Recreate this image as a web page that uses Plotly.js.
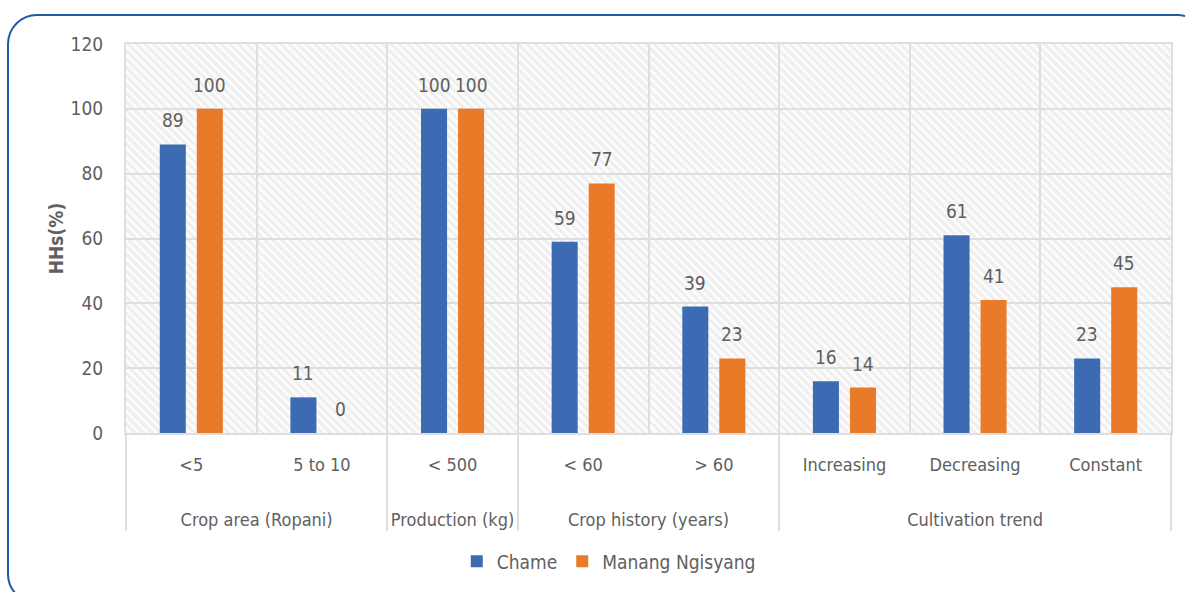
<!DOCTYPE html>
<html>
<head>
<meta charset="utf-8">
<script src="https://cdn.plot.ly/plotly-3.0.1.min.js"></script>
<style>
  html, body { margin: 0; padding: 0; background: #ffffff; overflow: hidden; }
  #wrap { position: relative; width: 1185px; height: 592px; overflow: hidden; }
  #frame {
    position: absolute; left: 7px; top: 14px; width: 1200px; height: 590px;
    border: 2px solid #1f5aa6; border-radius: 30px; box-sizing: border-box;
    pointer-events: none; z-index: 5;
  }
  #chart { position: absolute; left: 0; top: 0; width: 1185px; height: 592px; }
</style>
</head>
<body>
<div id="wrap">
  <div id="chart"></div>
  <div id="frame"></div>
</div>
<script>
// Indicator groups and their sub-categories
const groups = [
  "Crop area (Ropani)", "Crop area (Ropani)",
  "Production (kg)",
  "Crop history (years)", "Crop history (years)",
  "Cultivation trend", "Cultivation trend", "Cultivation trend"
];
const subCategories = ["<5", "5 to 10", "< 500", "< 60", "> 60", "Increasing", "Decreasing", "Constant"];

// Share of households (%) per village
const chame = [89, 11, 100, 59, 39, 16, 61, 23];
const manangNgisyang = [100, 0, 100, 77, 23, 14, 41, 45];

const FONT = '"Liberation Sans Narrow", "DejaVu Sans Condensed", "Roboto", sans-serif';
const TEXT_GREY = '#606060';
const GRID = '#dedede';

// Light diagonal hatch used as the plot background
const hatchSvg =
  '<svg xmlns="http://www.w3.org/2000/svg" width="1045" height="389">' +
  '<defs><pattern id="h" width="6" height="6" patternUnits="userSpaceOnUse" patternTransform="rotate(-45)">' +
  '<rect width="6" height="6" fill="#fcfcfc"/><rect width="3" height="6" fill="#efefef"/></pattern></defs>' +
  '<rect width="1045" height="389" fill="url(#h)"/></svg>';
const hatchUri = 'data:image/svg+xml;base64,' + btoa(hatchSvg);

// Group row sits a couple of blank lines below the sub-category row
const xCats = [groups.map(g => '<br><br>' + g), subCategories];

const traces = [
  { type: 'bar', name: 'Chame', x: xCats, y: chame, marker: { color: '#3d6bb3' } },
  { type: 'bar', name: 'Manang Ngisyang', x: xCats, y: manangNgisyang, marker: { color: '#e97a27' } }
];

// Value labels above each bar (category index on the x axis, shifted to its bar slot)
const BAR_SHIFT = 18.5;
const valueLabels = [];
[chame, manangNgisyang].forEach((series, s) => {
  series.forEach((v, i) => {
    valueLabels.push({
      x: i, y: v, xref: 'x', yref: 'y',
      text: String(v), showarrow: false,
      xanchor: 'center', yanchor: 'bottom',
      xshift: s === 0 ? -BAR_SHIFT : BAR_SHIFT, yshift: 11,
      font: { family: FONT, size: 19, color: TEXT_GREY }
    });
  });
});

const layout = {
  width: 1185, height: 592,
  margin: { l: 126, r: 14, t: 44, b: 159 },
  paper_bgcolor: '#ffffff',
  plot_bgcolor: '#f5f5f5',
  font: { family: FONT, size: 19, color: TEXT_GREY },
  barmode: 'group',
  bargap: 0.433,
  bargroupgap: 0.297,
  showlegend: true,
  legend: {
    orientation: 'h', x: 0.462, xanchor: 'center', y: -0.33, yanchor: 'middle',
    font: { family: FONT, size: 19, color: TEXT_GREY },
    itemwidth: 30, tracegroupgap: 0
  },
  xaxis: {
    type: 'multicategory',
    tickson: 'boundaries',
    showgrid: true, gridcolor: GRID, gridwidth: 2,
    showline: true, linecolor: GRID, linewidth: 2, mirror: true,
    showdividers: true, dividercolor: GRID, dividerwidth: 2,
    ticks: '', ticklabelstandoff: 14,
    tickfont: { family: FONT, size: 18, color: TEXT_GREY }
  },
  yaxis: {
    range: [0, 120], dtick: 20, tick0: 0,
    showgrid: true, gridcolor: GRID, gridwidth: 2,
    showline: true, linecolor: GRID, linewidth: 2, mirror: true,
    zeroline: false, ticks: 'outside', ticklen: 17, tickcolor: 'rgba(0,0,0,0)',
    tickfont: { family: FONT, size: 19, color: TEXT_GREY },
    title: { text: '<b>HHs(%)</b>', standoff: 2, font: { family: FONT, size: 19, color: TEXT_GREY } }
  },
  annotations: valueLabels,
  images: [{
    source: hatchUri, xref: 'paper', yref: 'paper', x: 0, y: 1,
    sizex: 1, sizey: 1, xanchor: 'left', yanchor: 'top',
    sizing: 'stretch', layer: 'below'
  }]
};

Plotly.newPlot('chart', traces, layout, { displayModeBar: false, staticPlot: true });
</script>
</body>
</html>
